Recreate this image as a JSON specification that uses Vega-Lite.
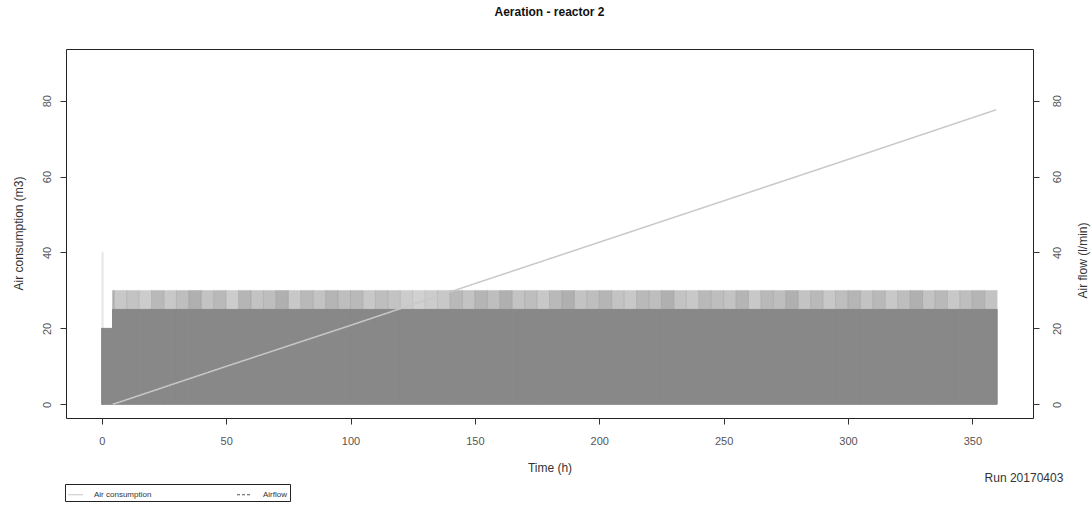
{
  "$schema": "https://vega.github.io/schema/vega-lite/v6.json",
  "width": 967,
  "height": 369,
  "autosize": {"type": "none"},
  "padding": {"left": 66, "top": 49, "right": 59, "bottom": 88},
  "background": "white",
  "config": {
    "font": "Liberation Sans",
    "view": {"stroke": "#222", "strokeWidth": 1},
    "axis": {"grid": false, "domain": false, "tickColor": "#333", "tickSize": 6, "labelFont": "Liberation Sans", "labelFontSize": 11, "labelColor": "#555", "titleFont": "Liberation Sans", "titleFontSize": 12, "titleFontWeight": "normal", "titleColor": "#333"},
    "legend": {"strokeColor": "#222", "padding": 2, "labelFontSize": 8, "labelColor": "#333", "symbolType": "stroke", "symbolSize": 225, "symbolStrokeWidth": 1.2, "columnPadding": 82, "labelOffset": 10, "labelFont": "Liberation Sans"}
  },
  "title": {"text": "Aeration - reactor 2", "fontSize": 12, "fontWeight": "bold", "anchor": "middle", "offset": 30, "color": "#111", "font": "Liberation Sans"},
  "datasets": {
    "flow": [
      {"t0": 0, "t1": 4.3, "lo": 20, "hi": 20, "share": 0},
      {"t0": 0, "t1": 0.6, "lo": 20, "hi": 40, "share": 0.12},
      {"t0": 4.3, "t1": 5, "lo": 25, "hi": 30, "share": 0.7},
      {"t0": 5, "t1": 10, "lo": 25, "hi": 30, "share": 0.45},
      {"t0": 10, "t1": 15, "lo": 25, "hi": 30, "share": 0.5},
      {"t0": 15, "t1": 20, "lo": 25, "hi": 30, "share": 0.4},
      {"t0": 20, "t1": 25, "lo": 25, "hi": 30, "share": 0.6},
      {"t0": 25, "t1": 30, "lo": 25, "hi": 30, "share": 0.45},
      {"t0": 30, "t1": 35, "lo": 25, "hi": 30, "share": 0.55},
      {"t0": 35, "t1": 40, "lo": 25, "hi": 30, "share": 0.7},
      {"t0": 40, "t1": 45, "lo": 25, "hi": 30, "share": 0.5},
      {"t0": 45, "t1": 50, "lo": 25, "hi": 30, "share": 0.6},
      {"t0": 50, "t1": 55, "lo": 25, "hi": 30, "share": 0.4},
      {"t0": 55, "t1": 60, "lo": 25, "hi": 30, "share": 0.65},
      {"t0": 60, "t1": 65, "lo": 25, "hi": 30, "share": 0.5},
      {"t0": 65, "t1": 70, "lo": 25, "hi": 30, "share": 0.55},
      {"t0": 70, "t1": 75, "lo": 25, "hi": 30, "share": 0.7},
      {"t0": 75, "t1": 80, "lo": 25, "hi": 30, "share": 0.45},
      {"t0": 80, "t1": 85, "lo": 25, "hi": 30, "share": 0.6},
      {"t0": 85, "t1": 90, "lo": 25, "hi": 30, "share": 0.5},
      {"t0": 90, "t1": 95, "lo": 25, "hi": 30, "share": 0.65},
      {"t0": 95, "t1": 100, "lo": 25, "hi": 30, "share": 0.55},
      {"t0": 100, "t1": 105, "lo": 25, "hi": 30, "share": 0.6},
      {"t0": 105, "t1": 110, "lo": 25, "hi": 30, "share": 0.45},
      {"t0": 110, "t1": 115, "lo": 25, "hi": 30, "share": 0.55},
      {"t0": 115, "t1": 120, "lo": 25, "hi": 30, "share": 0.5},
      {"t0": 120, "t1": 125, "lo": 25, "hi": 30, "share": 0.4},
      {"t0": 125, "t1": 130, "lo": 25, "hi": 30, "share": 0.35},
      {"t0": 130, "t1": 135, "lo": 25, "hi": 30, "share": 0.4},
      {"t0": 135, "t1": 140, "lo": 25, "hi": 30, "share": 0.45},
      {"t0": 140, "t1": 145, "lo": 25, "hi": 30, "share": 0.6},
      {"t0": 145, "t1": 150, "lo": 25, "hi": 30, "share": 0.5},
      {"t0": 150, "t1": 155, "lo": 25, "hi": 30, "share": 0.65},
      {"t0": 155, "t1": 160, "lo": 25, "hi": 30, "share": 0.55},
      {"t0": 160, "t1": 165, "lo": 25, "hi": 30, "share": 0.7},
      {"t0": 165, "t1": 170, "lo": 25, "hi": 30, "share": 0.5},
      {"t0": 170, "t1": 175, "lo": 25, "hi": 30, "share": 0.55},
      {"t0": 175, "t1": 180, "lo": 25, "hi": 30, "share": 0.45},
      {"t0": 180, "t1": 185, "lo": 25, "hi": 30, "share": 0.6},
      {"t0": 185, "t1": 190, "lo": 25, "hi": 30, "share": 0.7},
      {"t0": 190, "t1": 195, "lo": 25, "hi": 30, "share": 0.5},
      {"t0": 195, "t1": 200, "lo": 25, "hi": 30, "share": 0.55},
      {"t0": 200, "t1": 205, "lo": 25, "hi": 30, "share": 0.65},
      {"t0": 205, "t1": 210, "lo": 25, "hi": 30, "share": 0.5},
      {"t0": 210, "t1": 215, "lo": 25, "hi": 30, "share": 0.45},
      {"t0": 215, "t1": 220, "lo": 25, "hi": 30, "share": 0.6},
      {"t0": 220, "t1": 225, "lo": 25, "hi": 30, "share": 0.55},
      {"t0": 225, "t1": 230, "lo": 25, "hi": 30, "share": 0.7},
      {"t0": 230, "t1": 235, "lo": 25, "hi": 30, "share": 0.5},
      {"t0": 235, "t1": 240, "lo": 25, "hi": 30, "share": 0.45},
      {"t0": 240, "t1": 245, "lo": 25, "hi": 30, "share": 0.6},
      {"t0": 245, "t1": 250, "lo": 25, "hi": 30, "share": 0.55},
      {"t0": 250, "t1": 255, "lo": 25, "hi": 30, "share": 0.5},
      {"t0": 255, "t1": 260, "lo": 25, "hi": 30, "share": 0.65},
      {"t0": 260, "t1": 265, "lo": 25, "hi": 30, "share": 0.45},
      {"t0": 265, "t1": 270, "lo": 25, "hi": 30, "share": 0.6},
      {"t0": 270, "t1": 275, "lo": 25, "hi": 30, "share": 0.55},
      {"t0": 275, "t1": 280, "lo": 25, "hi": 30, "share": 0.7},
      {"t0": 280, "t1": 285, "lo": 25, "hi": 30, "share": 0.5},
      {"t0": 285, "t1": 290, "lo": 25, "hi": 30, "share": 0.6},
      {"t0": 290, "t1": 295, "lo": 25, "hi": 30, "share": 0.45},
      {"t0": 295, "t1": 300, "lo": 25, "hi": 30, "share": 0.55},
      {"t0": 300, "t1": 305, "lo": 25, "hi": 30, "share": 0.65},
      {"t0": 305, "t1": 310, "lo": 25, "hi": 30, "share": 0.5},
      {"t0": 310, "t1": 315, "lo": 25, "hi": 30, "share": 0.6},
      {"t0": 315, "t1": 320, "lo": 25, "hi": 30, "share": 0.45},
      {"t0": 320, "t1": 325, "lo": 25, "hi": 30, "share": 0.55},
      {"t0": 325, "t1": 330, "lo": 25, "hi": 30, "share": 0.7},
      {"t0": 330, "t1": 335, "lo": 25, "hi": 30, "share": 0.5},
      {"t0": 335, "t1": 340, "lo": 25, "hi": 30, "share": 0.6},
      {"t0": 340, "t1": 345, "lo": 25, "hi": 30, "share": 0.45},
      {"t0": 345, "t1": 350, "lo": 25, "hi": 30, "share": 0.55},
      {"t0": 350, "t1": 355, "lo": 25, "hi": 30, "share": 0.65},
      {"t0": 355, "t1": 360, "lo": 25, "hi": 30, "share": 0.5}
    ],
    "cons": [
      {"t": 4.4, "v": 0, "s": "Air consumption"},
      {"t": 50, "v": 10, "s": "Air consumption"},
      {"t": 100, "v": 20.8, "s": "Air consumption"},
      {"t": 150, "v": 31.8, "s": "Air consumption"},
      {"t": 200, "v": 42.7, "s": "Air consumption"},
      {"t": 250, "v": 53.6, "s": "Air consumption"},
      {"t": 300, "v": 64.5, "s": "Air consumption"},
      {"t": 359.6, "v": 77.6, "s": "Air consumption"}
    ],
    "note": [
      {"t": 386.6, "v": -19.4, "label": "Run 20170403"}
    ]
  },
  "layer": [
    {
      "layer": [
        {
          "data": {"name": "flow"},
          "mark": {"type": "rect", "fill": "#888888", "stroke": "#888888", "strokeWidth": 1},
          "encoding": {
            "x": {"field": "t0", "type": "quantitative", "scale": {"domain": [-14.4, 374.4], "nice": false, "zero": false}, "axis": {"values": [0, 50, 100, 150, 200, 250, 300, 350], "title": "Time (h)", "labelPadding": 11, "titleY": 44, "titleBaseline": "top"}},
            "x2": {"field": "t1"},
            "y": {"field": "lo", "type": "quantitative", "scale": {"domain": [-3.6, 93.6], "nice": false, "zero": false}, "axis": {"orient": "right", "values": [0, 20, 40, 60, 80], "title": "Air flow (l/min)", "labelAngle": 270, "labelAlign": "center", "labelBaseline": "top", "labelPadding": 12, "titleAngle": 270, "titleX": 49, "titleY": 211, "titleAlign": "center", "titleBaseline": "middle"}},
            "y2": {"datum": 0}
          }
        },
        {
          "data": {"name": "flow"},
          "mark": {"type": "rect", "fill": "#888888", "stroke": "#888888", "strokeWidth": 0.5},
          "encoding": {
            "x": {"field": "t0", "type": "quantitative", "scale": {"domain": [-14.4, 374.4], "nice": false, "zero": false}},
            "x2": {"field": "t1"},
            "y": {"field": "hi", "type": "quantitative", "scale": {"domain": [-3.6, 93.6], "nice": false, "zero": false}, "axis": {"orient": "right", "values": [0, 20, 40, 60, 80], "title": "Air flow (l/min)", "labelAngle": 270, "labelAlign": "center", "labelBaseline": "top", "labelPadding": 12, "titleAngle": 270, "titleX": 49, "titleY": 211, "titleAlign": "center", "titleBaseline": "middle"}},
            "y2": {"field": "lo"},
            "opacity": {"field": "share", "type": "quantitative", "scale": {"domain": [0, 1], "range": [0.1, 0.9]}, "legend": null}
          }
        }
      ]
    },
    {
      "layer": [
        {
          "data": {"name": "cons"},
          "mark": {"type": "line", "strokeWidth": 1.5},
          "encoding": {
            "x": {"field": "t", "type": "quantitative", "scale": {"domain": [-14.4, 374.4], "nice": false, "zero": false}},
            "y": {"field": "v", "type": "quantitative", "scale": {"domain": [-3.6, 93.6], "nice": false, "zero": false}, "axis": {"orient": "left", "values": [0, 20, 40, 60, 80], "title": "Air consumption (m3)", "labelAngle": 270, "labelAlign": "center", "labelBaseline": "alphabetic", "labelPadding": 10, "titleAngle": 270, "titleX": -48, "titleY": 184, "titleAlign": "center", "titleBaseline": "middle"}},
            "color": {"field": "s", "type": "nominal", "scale": {"domain": ["Air consumption", "Airflow"], "range": ["#c8c8c8", "#555555"]}, "legend": {"title": null, "orient": "none", "legendX": -1, "legendY": 435, "direction": "horizontal"}},
            "strokeDash": {"field": "s", "type": "nominal", "scale": {"domain": ["Air consumption", "Airflow"], "range": [[1, 0], [3, 2]]}, "legend": {"title": null, "orient": "none", "legendX": -1, "legendY": 435, "direction": "horizontal"}}
          }
        },
        {
          "data": {"name": "note"},
          "mark": {"type": "text", "align": "right", "baseline": "middle", "fontSize": 12, "color": "#333", "font": "Liberation Sans"},
          "encoding": {
            "x": {"field": "t", "type": "quantitative", "scale": {"domain": [-14.4, 374.4], "nice": false, "zero": false}},
            "y": {"field": "v", "type": "quantitative", "scale": {"domain": [-3.6, 93.6], "nice": false, "zero": false}},
            "text": {"field": "label"}
          }
        }
      ]
    }
  ],
  "resolve": {"scale": {"y": "independent"}}
}
